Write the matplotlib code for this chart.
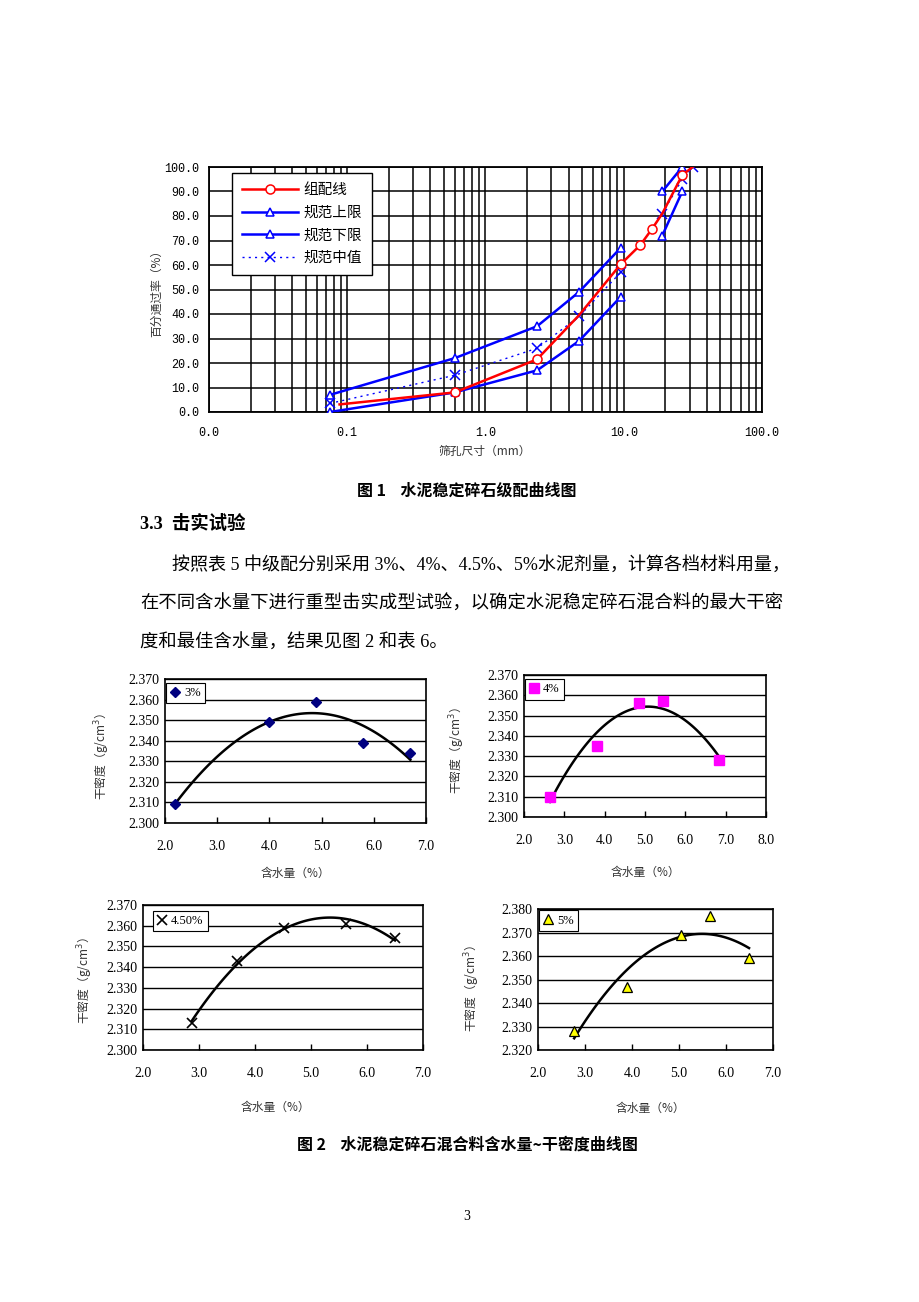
import numpy as np
import matplotlib
matplotlib.use("Agg")
import matplotlib.pyplot as plt
from matplotlib.ticker import LogLocator, NullFormatter

# Page: grading curve (Fig.1) + text + 4 compaction curves (Fig.2)

CJK = ['Noto Sans CJK SC', 'DejaVu Sans']
SERIF_CJK = ['Liberation Serif', 'Noto Sans CJK SC']
plt.rcParams['font.family'] = CJK
plt.rcParams['mathtext.fontset'] = 'dejavusans'

# ---------------- data: Fig.1 grading ----------------
sieve = [0.075, 0.6, 2.36, 4.75, 9.5, 13.2, 16, 19, 26.5, 31.5]
grading_x = [0.088, 0.6, 2.36, 4.75, 9.5, 13.2, 16, 19, 26.5, 31.5]
grading = [3.1, 8.0, 21.5, 39.5, 60.3, 68.2, 74.7, 81.0, 96.7, 100.0]
upper = [7, 22, 35, 49, 67, np.nan, np.nan, 90, 100, np.nan]
lower = [0, 8, 17, 29, 47, np.nan, np.nan, 72, 90, np.nan]
middle = [3.5, 15, 26, 39, 57, np.nan, np.nan, 81, 95, 100]
series_names = ['组配线', '规范上限', '规范下限', '规范中值']
x_ticks = [0.01, 0.1, 1, 10, 100]
y_ticks = [0, 10, 20, 30, 40, 50, 60, 70, 80, 90, 100]

# ---------------- data: Fig.2 compaction ----------------
w_3 = [2.2, 4.0, 4.9, 5.8, 6.7]
d_3 = [2.309, 2.349, 2.359, 2.339, 2.334]
w_4 = [2.64, 3.80, 4.85, 5.44, 6.84]
d_4 = [2.310, 2.335, 2.356, 2.357, 2.328]
w_45 = [2.87, 3.68, 4.52, 5.62, 6.50]
d_45 = [2.313, 2.343, 2.359, 2.361, 2.354]
w_5 = [2.77, 3.90, 5.04, 5.67, 6.49]
d_5 = [2.328, 2.347, 2.369, 2.377, 2.359]
dose_labels = ['3%', '4%', '4.50%', '5%']

W, H = 920, 1302
fig = plt.figure(figsize=(W / 100, H / 100), dpi=100)


def axes_px(l, t, r, b):
    return fig.add_axes([l / W, 1 - b / H, (r - l) / W, (b - t) / H])


def text_px(x, y, s, **kw):
    fig.text(x / W, 1 - y / H, s, **kw)


# ---------------- Fig.1 ----------------
ax = axes_px(209, 167, 762, 412)
ax.set_xscale('log')
ax.set_xlim(0.01, 100)
ax.set_ylim(0, 100)
ax.set_xticks(x_ticks)
ax.set_xticklabels([f'{v:.1f}' for v in x_ticks], family='Liberation Mono', fontsize=8.5)
ax.set_yticks(y_ticks)
ax.set_yticklabels([f'{v:.1f}' for v in y_ticks], family='Liberation Mono', fontsize=8.5)
ax.xaxis.set_minor_locator(LogLocator(base=10, subs=range(2, 10)))
ax.xaxis.set_minor_formatter(NullFormatter())
ax.grid(which='both', axis='x', color='black', lw=1.1)
ax.grid(which='major', axis='y', color='black', lw=1.1)
ax.tick_params(which='both', length=0)
ax.tick_params(axis='x', pad=11)
ax.tick_params(axis='y', pad=7)
for s in ax.spines.values():
    s.set_linewidth(1.3)

h1, = ax.plot(grading_x, grading, color='red', lw=1.8, marker='o', ms=6.5,
              mfc='white', mec='red', mew=1.1, markevery=[1, 2, 4, 5, 6, 8], zorder=4)
h2, = ax.plot(sieve, upper, color='blue', lw=1.8, marker='^', ms=6,
              mfc='white', mec='blue', mew=1.1, zorder=3)
h3, = ax.plot(sieve, lower, color='blue', lw=1.8, marker='^', ms=6,
              mfc='white', mec='blue', mew=1.1, zorder=3)
h4, = ax.plot(sieve, middle, color='blue', lw=1.0, ls=(0, (1.5, 3)), marker='x', ms=7,
              mec='blue', mew=1.1, zorder=3)
leg = ax.legend([h1, h2, h3, h4], series_names, loc='upper left',
                bbox_to_anchor=(0.042, 0.975), borderaxespad=0, fontsize=10.5,
                frameon=True, fancybox=False, edgecolor='black', framealpha=1,
                handlelength=3.8, borderpad=0.7, labelspacing=0.58, handletextpad=0.4)
leg.get_frame().set_linewidth(1.0)
leg.set_zorder(10)

text_px(157, 290, '百分通过率（%）', rotation=90, ha='center', va='center',
        fontsize=8.5, color='#333333')
text_px(485, 451, '筛孔尺寸（mm）', ha='center', va='center', fontsize=8.5, color='#333333')

# ---------------- text block ----------------
text_px(467, 491, '图 1    水泥稳定碎石级配曲线图', ha='center', va='center',
        fontsize=11.5, weight='bold')
text_px(140, 524, '3.3  击实试验', ha='left', va='center', fontsize=13.2, weight='bold',
        family=SERIF_CJK)
text_px(172, 565, '按照表 5 中级配分别采用 3%、4%、4.5%、5%水泥剂量，计算各档材料用量，',
        ha='left', va='center', fontsize=13.0, family=SERIF_CJK)
text_px(140, 604, '在不同含水量下进行重型击实成型试验，以确定水泥稳定碎石混合料的最大干密',
        ha='left', va='center', fontsize=13.2, family=SERIF_CJK)
text_px(140, 643, '度和最佳含水量，结果见图 2 和表 6。', ha='left', va='center', fontsize=13.2,
        family=SERIF_CJK)


# ---------------- Fig.2 ----------------
def density_plot(box, w, d, xlim, ylim, label, mkw, leg_anchor, ylab_xy, xlab_xy):
    a = axes_px(*box)
    a.set_xlim(*xlim)
    a.set_ylim(*ylim)
    xt = np.arange(xlim[0], xlim[1] + 0.01, 1.0)
    yt = np.arange(ylim[0], ylim[1] + 0.0001, 0.01)
    a.set_xticks(xt)
    a.set_xticklabels([f'{v:.1f}' for v in xt], family='Liberation Serif', fontsize=10)
    a.set_yticks(yt)
    a.set_yticklabels([f'{v:.3f}' for v in yt], family='Liberation Serif', fontsize=10)
    a.tick_params(axis='x', direction='in', length=4, width=1, pad=12)
    a.tick_params(axis='y', length=0, pad=4)
    a.grid(axis='y', color='black', lw=1.0)
    for s in a.spines.values():
        s.set_linewidth(1.2)
    # quadratic trendline of the test points
    c = np.polyfit(w, d, 2)
    xs = np.linspace(min(w), max(w), 100)
    a.plot(xs, np.polyval(c, xs), color='black', lw=1.8, zorder=3)
    hp, = a.plot(w, d, ls='none', zorder=4, **mkw)
    lg = a.legend([hp], [label], loc='upper left', bbox_to_anchor=leg_anchor,
                  borderaxespad=0, prop={'family': 'Liberation Serif', 'size': 9},
                  frameon=True, fancybox=False, edgecolor='black', framealpha=1,
                  handlelength=0.8, handletextpad=0.3, borderpad=0.35)
    lg.get_frame().set_linewidth(0.8)
    text_px(ylab_xy[0], ylab_xy[1], '干密度（g/cm$^3$）', rotation=90, ha='center',
            va='center', fontsize=8.5, color='#333333')
    text_px(xlab_xy[0], xlab_xy[1], '含水量（%）', ha='center', va='center',
            fontsize=8.5, color='#333333')
    return a


density_plot((165, 679, 426, 823), w_3, d_3, (2.0, 7.0), (2.300, 2.370), dose_labels[0],
             dict(marker='D', ms=5, mfc='#000080', mec='#000080'),
             (0.003, 0.975), (102, 757), (295, 873))
density_plot((524, 675, 766, 817), w_4, d_4, (2.0, 8.0), (2.300, 2.370), dose_labels[1],
             dict(marker='s', ms=7, mfc='#ff00ff', mec='#ff00ff'),
             (0.003, 0.972), (457, 751), (645, 872))
density_plot((143, 905, 423, 1050), w_45, d_45, (2.0, 7.0), (2.300, 2.370), dose_labels[2],
             dict(marker='x', ms=6.5, mec='black', mew=1.2),
             (0.036, 0.961), (85, 981), (275, 1107))
density_plot((538, 909, 773, 1050), w_5, d_5, (2.0, 7.0), (2.320, 2.380), dose_labels[3],
             dict(marker='^', ms=6.5, mfc='#ffff00', mec='black', mew=0.9),
             (0.003, 0.99), (472, 989), (650, 1108))

text_px(467, 1145, '图 2    水泥稳定碎石混合料含水量~干密度曲线图', ha='center', va='center',
        fontsize=11.5, weight='bold')
text_px(467, 1216, '3', ha='center', va='center', fontsize=10, family='Liberation Serif')

fig.savefig('out.png', dpi=100, facecolor='white')
